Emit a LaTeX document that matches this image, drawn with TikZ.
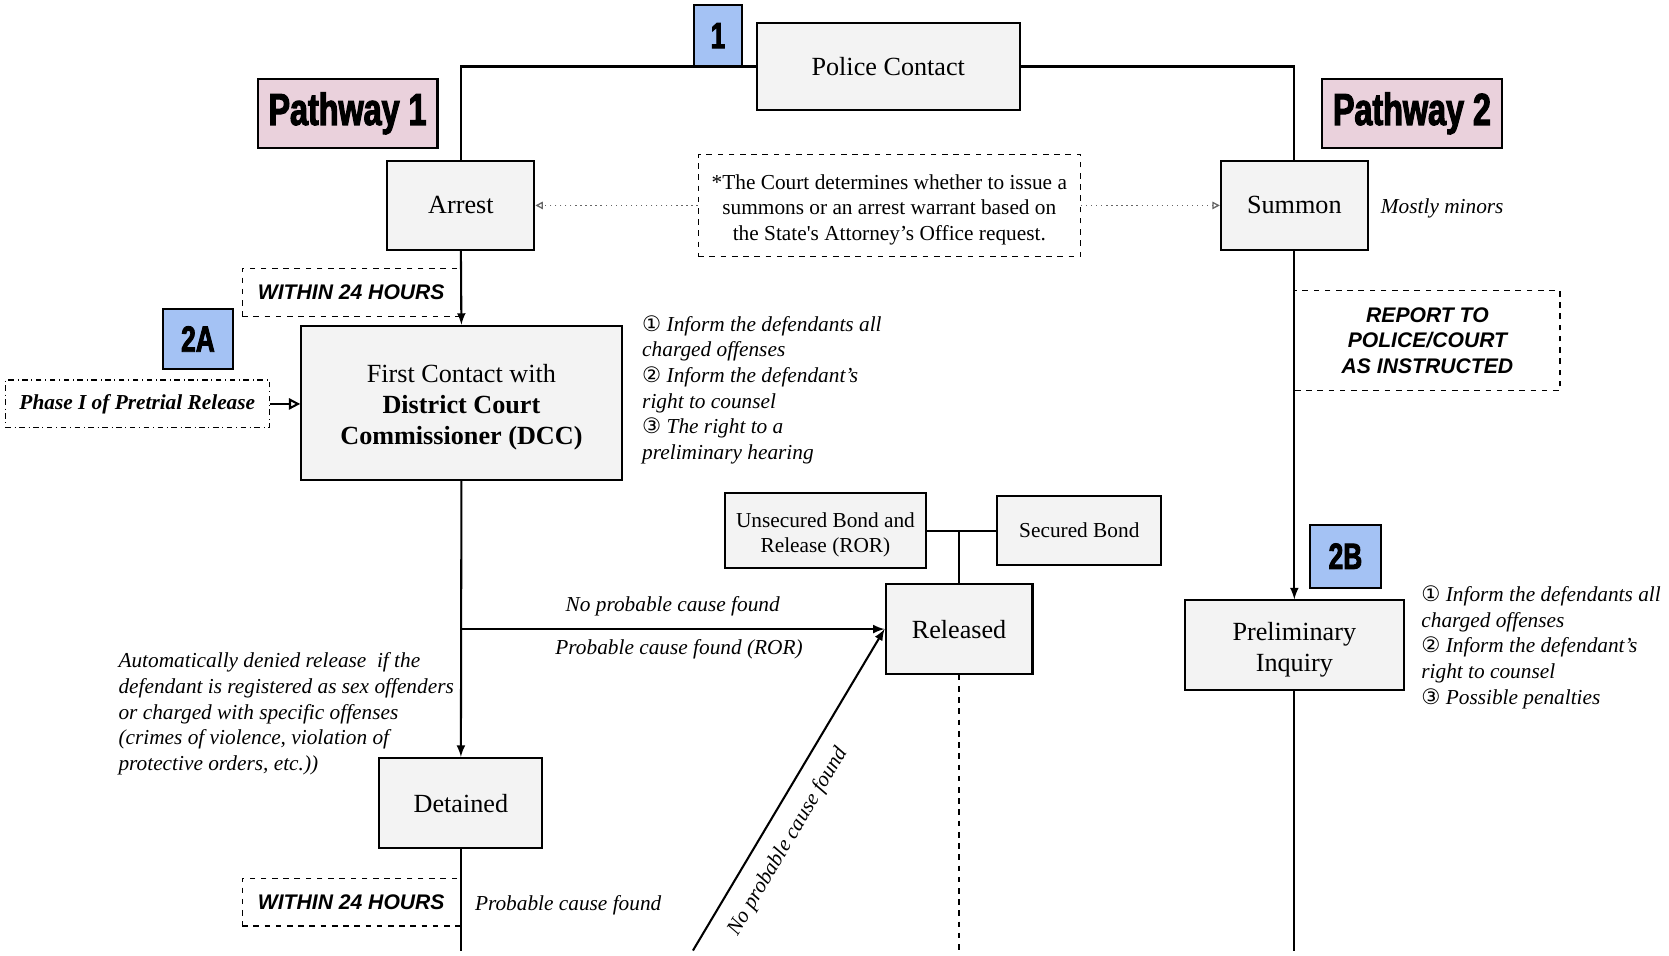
\documentclass[tikz,border=0pt]{standalone}
\usepackage{fontspec}
\setmainfont{Liberation Serif}
\setsansfont{Liberation Sans}
\newfontfamily\circfont{DejaVu Sans}
\newfontfamily\tagfont{Liberation Sans}[FakeStretch=0.72,FakeBold=2.5]
\usepackage{tikz}
\usetikzlibrary{arrows.meta}
\definecolor{boxgray}{HTML}{F3F3F3}
\definecolor{tagpink}{HTML}{EAD1DC}
\definecolor{tagblue}{HTML}{A4C2F4}

\begin{document}
\begin{tikzpicture}[>=latex, x=0.02cm, y=-0.02cm,
		every node/.style={inner sep=0pt},
		sz/.style 2 args={minimum width=#1*0.02cm, minimum height=#2*0.02cm},
		stepbox/.style={draw, line width=1.1pt, fill=boxgray, align=center, font=\fontsize{14}{16.5}\selectfont},
		smallbox/.style={stepbox, font=\fontsize{11.4}{13.4}\selectfont},
		notebox/.style={draw, dashed, line width=0.6pt, align=center, font=\fontsize{11.4}{13.7}\selectfont},
		timebox/.style={draw, dashed, line width=0.6pt, align=center, font=\sffamily\bfseries\itshape\fontsize{11.3}{13.7}\selectfont},
		pathtag/.style={draw, line width=1.1pt, fill=tagpink, font=\tagfont\bfseries\fontsize{24}{24}\selectfont},
		badge/.style={draw, line width=1.1pt, fill=tagblue, font=\tagfont\bfseries\fontsize{19.5}{19.5}\selectfont},
		remark/.style={align=left, font=\itshape\fontsize{11.4}{13.7}\selectfont},
		flow/.style={line width=1.1pt}]
		\useasboundingbox (0,0) rectangle (1568,898);

		% Macro for the circled numbers of the lists.
		% Usage: \cnum{1}
		\newcommand{\cnum}[1]{{\circfont\ifcase#1\or ①\or ②\or ③\fi}}
		% Taller first line, so that a block of lines sits a bit lower
		\newcommand{\droptext}[1]{\rule{0pt}{#1}}

		% Draw the main boxes
		\node[stepbox, sz={247}{81}] (police) at (834.5,62.5) {Police Contact};
		\node[stepbox, sz={138}{84}] (arrest) at (433,193) {Arrest};
		\node[stepbox, sz={138}{84}] (summon) at (1216,193) {Summon};
		\node[stepbox, sz={301}{145}] (dcc) at (433.5,378.5) {\droptext{14.3pt}First Contact with\\ \textbf{District Court}\\ \textbf{Commissioner (DCC)}};
		\node[stepbox, sz={138}{84}] (released) at (901,591) {Released};
		\node[stepbox, sz={153}{85}] (detained) at (433,754.5) {Detained};
		\node[stepbox, sz={206}{84}] (prelim) at (1216,606) {\droptext{14.3pt}Preliminary\\ Inquiry};
		\node[smallbox, sz={189}{71}] (unsecured) at (775.5,498.5) {\droptext{12.5pt}Unsecured Bond and\\ Release (ROR)};
		\node[smallbox, sz={154}{65}] (secured) at (1014,498.5) {Secured Bond};

		% Draw the tags and numbered badges
		\node[pathtag, sz={169}{65}] (path1) at (326.5,106.5) {Pathway 1};
		\node[pathtag, sz={169}{65}] (path2) at (1326.5,106.5) {Pathway 2};
		\node[badge, sz={45}{57}] (badge1) at (674.5,33.5) {1};
		\node[badge, sz={66}{57}] (badge2a) at (186,318.5) {2A};
		\node[badge, sz={66}{59}] (badge2b) at (1264,522.5) {2B};

		% Dashed notes
		\node[notebox, sz={359}{96}] (note) at (835.5,193) {\droptext{12.5pt}*The Court determines whether to issue a\\ summons or an arrest warrant based on\\ the State\textquotesingle s Attorney’s Office request.};
		\node[timebox, sz={205}{45}, anchor=east] (within1) at (433,274.5) {WITHIN 24 HOURS};
		\node[timebox, sz={205}{45}, anchor=east] (within2) at (433,847.5) {WITHIN 24 HOURS};
		\node[timebox, sz={249}{94}, anchor=west] (report) at (1216,320) {REPORT TO\\ POLICE/COURT\\ AS INSTRUCTED};
		\node[draw, dash dot, line width=0.6pt, sz={248}{45}, font=\bfseries\itshape\fontsize{11.4}{13.7}\selectfont] (phase) at (129,379.5) {Phase I of Pretrial Release};

		% Side remarks
		\node[remark, anchor=west] (minors) at (1297,196) {Mostly minors};
		\node[remark, anchor=north west] (list1) at (603,296) {\cnum{1} Inform the defendants all\\ charged offenses\\ \cnum{2} Inform the defendant’s\\ right to counsel\\ \cnum{3} The right to a\\ preliminary hearing};
		\node[remark, anchor=north west] (list2) at (1335,550) {\cnum{1} Inform the defendants all\\ charged offenses\\ \cnum{2} Inform the defendant’s\\ right to counsel\\ \cnum{3} Possible penalties};
		\node[remark, anchor=north west] (denied) at (111,613) {Automatically denied release \ if the\\ defendant is registered as sex offenders\\ or charged with specific offenses\\ (crimes of violence, violation of\\ protective orders, etc.))};

		% Free ends of the connectors
		\coordinate (branch) at (433,591);
		\coordinate (diagfoot) at (651,893);
		\coordinate (detend) at (433,893);
		\coordinate (relend) at (901,893);
		\coordinate (prelimend) at (1216,893);

		% Draw the connectors
		\draw[flow] (police.west) -| (arrest.north);
		\draw[flow] (police.east) -| (summon.north);
		\draw[dotted, gray!80!black, line width=0.7pt, -{Triangle[open, length=4pt, width=4pt]}] (note.west) -- (arrest.east);
		\draw[dotted, gray!80!black, line width=0.7pt, -{Triangle[open, length=4pt, width=4pt]}] (note.east) -- (summon.west);
		\draw[flow, ->] (arrest.south) -- (dcc.north);
		\draw[flow, -{Triangle[open, length=6pt, width=6pt]}] (phase.east) -- (phase.east -| dcc.west);
		\draw[flow, ->] (dcc.south) -- (detained.north);
		\draw[flow, ->] (branch) -- node[above=6.5pt, remark] {No probable cause found} node[pos=0.515, below=5pt, remark] {Probable cause found (ROR)} (released.west);
		\draw[flow, ->] (diagfoot) -- node[pos=0.38, sloped, below=8pt, remark] {No probable cause found} (released.west);
		\draw[flow] (unsecured.east) -- (secured.west);
		\draw[flow] (released.north) -- (released.north |- unsecured.east);
		\draw[flow, dashed] (released.south) -- (relend);
		\draw[flow] (detained.south) -- node[pos=0.55, right=7pt, remark] {Probable cause found} (detend);
		\draw[flow, ->] (summon.south) -- (prelim.north);
		\draw[flow] (prelim.south) -- (prelimend);
	\end{tikzpicture}
\end{document}
